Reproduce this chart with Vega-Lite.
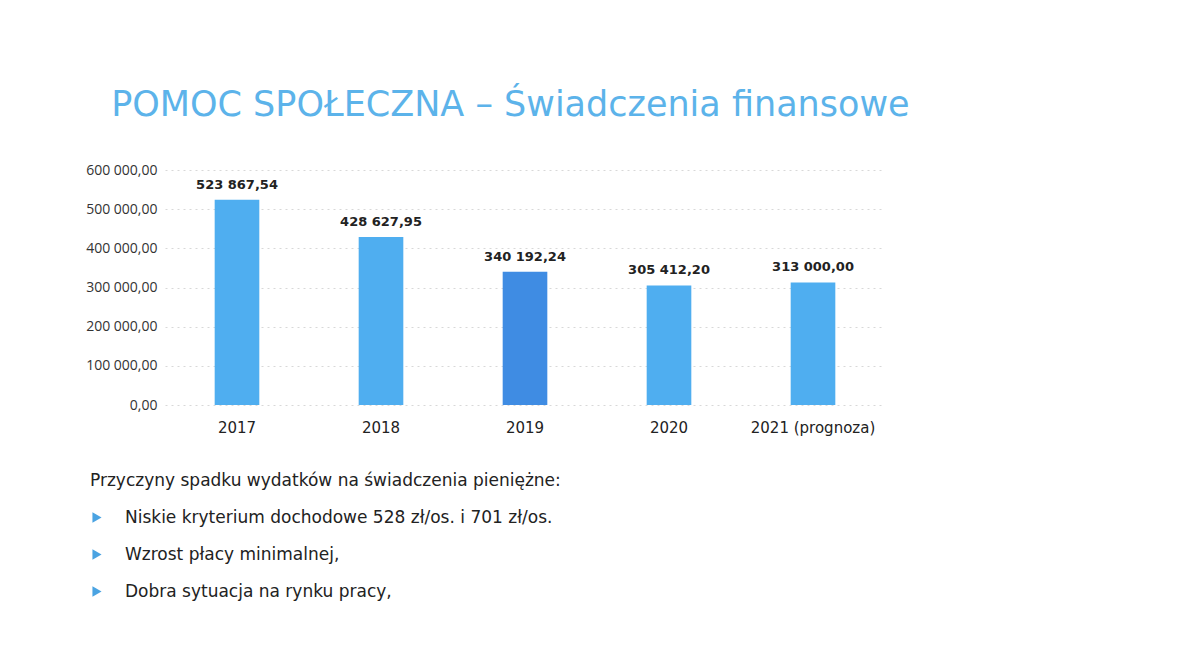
{
  "$schema": "https://vega.github.io/schema/vega-lite/v6.json",
  "background": "white",
  "padding": {"left": 85, "top": 88, "right": 10, "bottom": 5},
  "config": {
    "locale": {"number": {"decimal": ",", "thousands": " ", "grouping": [3], "currency": ["", " zł"]}},
    "view": {"stroke": null},
    "font": "DejaVu Sans"
  },
  "title": {
    "text": "POMOC SPOŁECZNA – Świadczenia finansowe",
    "font": "DejaVu Sans",
    "fontSize": 35,
    "fontWeight": "normal",
    "color": "#5CB3EA",
    "anchor": "middle",
    "dx": 25,
    "offset": 40
  },
  "spacing": 27,
  "columns": 1,
  "align": "none",
  "concat": [
    {
      "width": 720,
      "height": 235,
      "data": {"values": [
        {"year": "2017", "value": 523867.54, "group": "a"},
        {"year": "2018", "value": 428627.95, "group": "a"},
        {"year": "2019", "value": 340192.24, "group": "b"},
        {"year": "2020", "value": 305412.20, "group": "a"},
        {"year": "2021 (prognoza)", "value": 313000.00, "group": "a"}
      ]},
      "encoding": {
        "x": {
          "field": "year", "type": "nominal", "sort": null,
          "scale": {"paddingInner": 0.69, "paddingOuter": 0.345},
          "axis": {"title": null, "labelAngle": 0, "labelFontSize": 15, "labelColor": "#222", "labelFont": "DejaVu Sans", "labelPadding": 15, "domain": false, "ticks": false}
        },
        "y": {
          "field": "value", "type": "quantitative",
          "scale": {"domain": [0, 600000], "nice": false},
          "axis": {"title": null, "values": [0, 100000, 200000, 300000, 400000, 500000, 600000], "format": ",.2f", "labelFont": "Open Sans", "labelFontSize": 14, "labelColor": "#333", "labelPadding": 8, "domain": false, "ticks": false, "gridColor": "#d8d8d8", "gridDash": [2, 4], "gridWidth": 1}
        }
      },
      "layer": [
        {
          "mark": {"type": "bar"},
          "encoding": {
            "color": {"field": "group", "type": "nominal", "legend": null, "scale": {"domain": ["a", "b"], "range": ["#4FAEF0", "#3F8CE3"]}}
          }
        },
        {
          "mark": {"type": "text", "baseline": "bottom", "dy": -8, "fontWeight": "bold", "fontSize": 13, "font": "DejaVu Sans", "color": "#222"},
          "encoding": {"text": {"field": "value", "type": "quantitative", "format": ",.2f"}}
        }
      ]
    },
    {
      "width": 350,
      "height": 148,
      "data": {"values": [
        {"line": 0, "level": 0, "text": "Przyczyny spadku wydatków na świadczenia pieniężne:", "bullet": false},
        {"line": 1, "level": 1, "text": "Niskie kryterium dochodowe 528 zł/os. i 701 zł/os.", "bullet": true},
        {"line": 2, "level": 1, "text": "Wzrost płacy minimalnej,", "bullet": true},
        {"line": 3, "level": 1, "text": "Dobra sytuacja na rynku pracy,", "bullet": true}
      ]},
      "encoding": {
        "y": {"field": "line", "type": "ordinal", "axis": null, "scale": {"type": "point", "padding": 0.5}}
      },
      "layer": [
        {
          "mark": {"type": "text", "align": "left", "baseline": "middle", "fontSize": 17, "font": "DejaVu Sans", "color": "#222", "xOffset": -75},
          "encoding": {
            "x": {"field": "level", "type": "quantitative", "axis": null, "scale": {"domain": [0, 10], "nice": false, "zero": true}},
            "text": {"field": "text", "type": "nominal"}
          }
        },
        {
          "transform": [{"filter": "datum.bullet"}],
          "mark": {"type": "point", "shape": "triangle-right", "filled": true, "size": 110, "color": "#4AA3E2", "opacity": 1, "xOffset": -75},
          "encoding": {
            "x": {"datum": 0.2, "type": "quantitative"}
          }
        }
      ]
    }
  ]
}
